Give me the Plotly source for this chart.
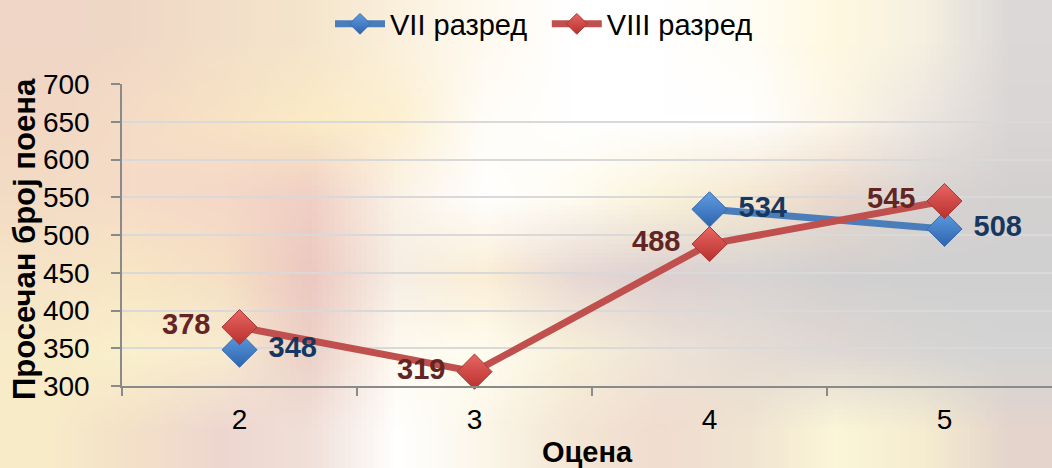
import base64, struct, zlib
import plotly.graph_objects as go

# ---- data ----
grades = ["2", "3", "4", "5"]
vii_values = [348, None, 534, 508]
viii_values = [378, 319, 488, 545]
series_names = ["VII разред", "VIII разред"]
y_title = "Просечан број поена"
x_title = "Оцена"

# ---- background (blurred photo approximation) ----
BG_ROWS = [
    ["#efd6c6", "#f0d8c6", "#f3dfc9", "#f5e5cc", "#fbf0dc", "#fffaf0", "#ffffff", "#ffffff", "#fffdf5", "#fff8e0", "#f5f0e0", "#dcd8d8"],
    ["#f2d8c4", "#f5dcc6", "#f8e2c4", "#fbebc5", "#fdf0d0", "#fffdf8", "#ffffff", "#ffffff", "#ffffff", "#fdf6e8", "#ece6e0", "#dad6d6"],
    ["#f3dcc4", "#f6dcc8", "#f5d8c8", "#f0cfc4", "#fbf2e6", "#ffffff", "#fffcf0", "#fbf3da", "#f5e8d0", "#ead8cc", "#d9d4d2", "#d4d0d0"],
    ["#f6e4c8", "#f8e6c4", "#f6e0c4", "#ecc8c0", "#f6eee4", "#fbeed4", "#e8d8d4", "#ddd0d0", "#d8d4d4", "#d2d0d0", "#d0d0d0", "#d0d0d0"],
    ["#f8ecc8", "#faf0cc", "#f8ecd0", "#ecd0c8", "#fffaf0", "#fffdf0", "#f8f0d8", "#efe4d8", "#e6dcd4", "#e0d8d4", "#d8d6d4", "#d4d4d4"],
    ["#f8ecc8", "#f4e0c8", "#eed6d0", "#f0e0d8", "#ffffff", "#fbf6e8", "#f4e6d4", "#f0dcd0", "#f0e4d0", "#fcf6d8", "#f6ecd0", "#e4d4cc"],
]


def png_uri(rows):
    h = len(rows)
    w = len(rows[0])
    raw = b""
    for r in rows:
        raw += b"\x00" + b"".join(bytes.fromhex(c[1:]) for c in r)

    def chunk(t, d):
        c = struct.pack(">I", len(d)) + t + d
        return c + struct.pack(">I", zlib.crc32(t + d) & 0xffffffff)

    png = b"\x89PNG\r\n\x1a\n"
    png += chunk(b"IHDR", struct.pack(">IIBBBBB", w, h, 8, 2, 0, 0, 0))
    png += chunk(b"IDAT", zlib.compress(raw))
    png += chunk(b"IEND", b"")
    return "data:image/png;base64," + base64.b64encode(png).decode()


W, H = 1052, 468
ML, MR, MT, MB = 122, 0, 84, 82
pw, ph = W - ML - MR, H - MT - MB

FONT = "Liberation Sans, Arial, sans-serif"
PAD = "\u2002"

fig = go.Figure()
# lines + markers
fig.add_trace(go.Scatter(
    x=grades, y=vii_values, name=series_names[0] + "\u2002", mode="lines+markers",
    line=dict(color="#4a7ebb", width=7), connectgaps=False,
    marker=dict(symbol="diamond", size=27, color="#5f9de3",
                line=dict(color="#3a6aa8", width=1),
                gradient=dict(type="vertical", color="#2e64ad")),
    cliponaxis=False,
))
fig.add_trace(go.Scatter(
    x=grades, y=viii_values, name=series_names[1], mode="lines+markers",
    line=dict(color="#c0504d", width=7),
    marker=dict(symbol="diamond", size=27, color="#e86663",
                line=dict(color="#a33a37", width=1),
                gradient=dict(type="vertical", color="#b8302d")),
    cliponaxis=False,
))
# data labels on top of all lines
fig.add_trace(go.Scatter(
    x=grades, y=vii_values, mode="text", showlegend=False, hoverinfo="skip",
    text=[PAD + PAD + str(v) if v is not None else "" for v in vii_values],
    textposition="middle right",
    textfont=dict(family=FONT, size=29, color="#17375e", weight="bold"),
    cliponaxis=False,
))
fig.add_trace(go.Scatter(
    x=grades, y=viii_values, mode="text", showlegend=False, hoverinfo="skip",
    text=[str(v) + PAD + PAD for v in viii_values],
    textposition="middle left",
    textfont=dict(family=FONT, size=29, color="#632523", weight="bold"),
    cliponaxis=False,
))

fig.update_layout(
    width=W, height=H,
    margin=dict(l=ML, r=MR, t=MT, b=MB, autoexpand=False),
    paper_bgcolor="#f5e6d0",
    plot_bgcolor="rgba(0,0,0,0)",
    font=dict(family=FONT, size=28, color="#000000"),
    showlegend=True,
    legend=dict(orientation="h", x=(544 - ML) / pw, xanchor="center", y=1 + (MT - 24) / ph,
                yanchor="middle", font=dict(size=29), bgcolor="rgba(0,0,0,0)",
                itemwidth=50, traceorder="normal"),
    images=[dict(source=png_uri(BG_ROWS), xref="paper", yref="paper",
                 x=-ML / pw, y=1 + MT / ph, sizex=W / pw, sizey=H / ph,
                 sizing="stretch", layer="below", xanchor="left", yanchor="top")],
    annotations=[dict(text=y_title, textangle=-90, xref="paper", yref="paper",
                      x=(24 - ML) / pw, y=(MT + ph / 2 - 239) / ph + 0.5,
                      xanchor="center", yanchor="middle", showarrow=False,
                      font=dict(family=FONT, size=31, weight="bold", color="#000000"))],
)
fig.update_xaxes(
    type="category", range=[-0.5, -0.5 + pw / 235.0],
    showgrid=False, showline=True, linecolor="#8a8a8a", linewidth=1.5,
    ticks="outside", tickson="boundaries", ticklen=8, tickcolor="#8a8a8a", tickwidth=1.5,
    tickfont=dict(size=28), zeroline=False, ticklabelstandoff=8,
    title=dict(text=x_title, font=dict(size=29, weight="bold"), standoff=8),
)
fig.update_yaxes(
    range=[300, 700], dtick=50, showgrid=True, gridcolor="#d9d9d9", gridwidth=2,
    showline=True, linecolor="#8a8a8a", linewidth=1.5,
    ticks="outside", ticklen=9, tickcolor="#8a8a8a", tickwidth=1.5,
    tickfont=dict(size=28), zeroline=False, ticklabelstandoff=16,
)

fig.write_html("out.html", config={"displayModeBar": False},
               post_script="document.body.style.margin='0';")
